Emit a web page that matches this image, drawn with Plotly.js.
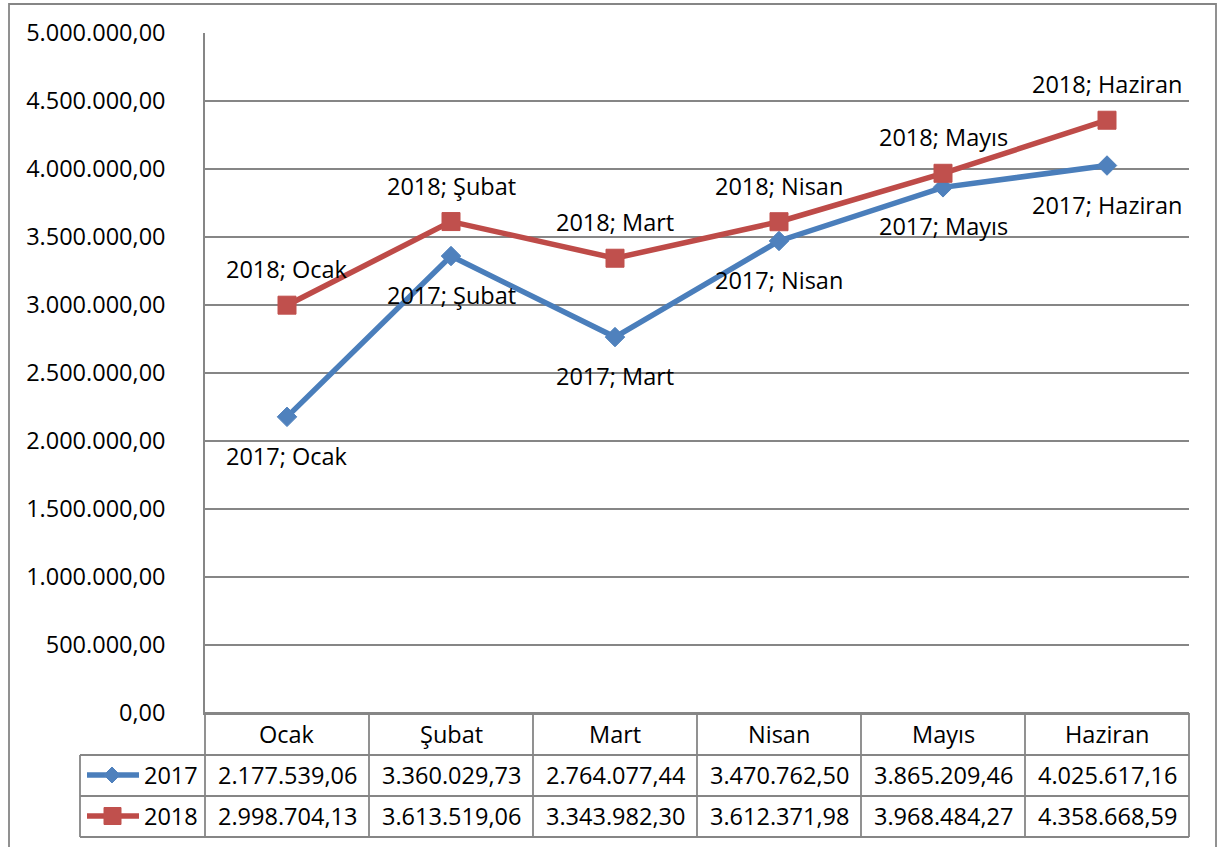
<!DOCTYPE html>
<html>
<head>
<meta charset="utf-8">
<script src="https://cdn.plot.ly/plotly-3.0.1.min.js"></script>
<style>html,body{margin:0;padding:0;background:#fff;}#chart{width:1219px;height:847px;}</style>
</head>
<body>
<div id="chart"></div>
<script>
// ---- data ----
const categories = ["Ocak", "Şubat", "Mart", "Nisan", "Mayıs", "Haziran"];
const seriesNames = ["2017", "2018"];
const values2017 = [2177539.06, 3360029.73, 2764077.44, 3470762.50, 3865209.46, 4025617.16];
const values2018 = [2998704.13, 3613519.06, 3343982.30, 3612371.98, 3968484.27, 4358668.59];

// ---- styling / layout helpers ----
const FONT = "Open Sans";
const FS = 23.5;
const BLUE = "#4A7EBB", BLUE_M = "#4F81BD";
const RED = "#BE4B48", RED_M = "#C0504D";
const GRID = "#868686";
const W = 1219, H = 847;
const PL = 205, PR = 1189, PT = 33, PB = 713;
const px = x => (x - PL) / (PR - PL);
const py = y => (PB - y) / (PB - PT);

function fmt(v) {
  const parts = v.toFixed(2).split(".");
  return parts[0].replace(/\B(?=(\d{3})+(?!\d))/g, ".") + "," + parts[1];
}

const traces = [
  {
    type: "scatter", mode: "lines+markers", name: seriesNames[0],
    x: categories, y: values2017,
    line: {color: BLUE, width: 5.5},
    marker: {symbol: "diamond", size: 15, color: BLUE_M, line: {color: BLUE_M, width: 1}},
    cliponaxis: false, hoverinfo: "skip"
  },
  {
    type: "scatter", mode: "lines+markers", name: seriesNames[1],
    x: categories, y: values2018,
    line: {color: RED, width: 5.5},
    marker: {symbol: "square", size: 18, color: RED_M, line: {color: RED_M, width: 1}},
    cliponaxis: false, hoverinfo: "skip"
  }
];

const annotations = [];
const shapes = [];
const txtFont = {family: FONT, size: FS, color: "#000"};

// data labels
categories.forEach((c, i) => {
  annotations.push({xref: "x", yref: "y", x: c, y: values2018[i], text: seriesNames[1] + "; " + c,
    showarrow: false, yshift: 36, font: txtFont, xanchor: "center", yanchor: "middle"});
  annotations.push({xref: "x", yref: "y", x: c, y: values2017[i], text: seriesNames[0] + "; " + c,
    showarrow: false, yshift: -39, font: txtFont, xanchor: "center", yanchor: "middle"});
});

// data table
const colW = (PR - PL) / categories.length;
const lineStyle = {color: GRID, width: 1.8};
function hline(x0, x1, y) {
  shapes.push({type: "line", xref: "paper", yref: "paper", x0: px(x0), x1: px(x1), y0: py(y), y1: py(y), line: lineStyle});
}
function vline(x, y0, y1) {
  shapes.push({type: "line", xref: "paper", yref: "paper", x0: px(x), x1: px(x), y0: py(y0), y1: py(y1), line: lineStyle});
}
hline(PL, PR, 713);
hline(80, PR, 755);
hline(80, PR, 796);
hline(80, PR, 837);
vline(80, 755, 837);
for (let i = 0; i <= categories.length; i++) vline(PL + colW * i, 713, 837);

categories.forEach((c, i) => {
  const cx = px(PL + colW * (i + 0.5));
  annotations.push({xref: "paper", yref: "paper", x: cx, y: py(734), text: c, showarrow: false,
    font: txtFont, xanchor: "center", yanchor: "middle"});
  annotations.push({xref: "paper", yref: "paper", x: cx, y: py(775.5), text: fmt(values2017[i]), showarrow: false,
    font: txtFont, xanchor: "center", yanchor: "middle"});
  annotations.push({xref: "paper", yref: "paper", x: cx, y: py(816.5), text: fmt(values2018[i]), showarrow: false,
    font: txtFont, xanchor: "center", yanchor: "middle"});
});

// legend keys in the table
annotations.push({xref: "paper", yref: "paper", x: px(142), y: py(775.5), text: seriesNames[0], showarrow: false,
  font: txtFont, xanchor: "left", yanchor: "middle"});
annotations.push({xref: "paper", yref: "paper", x: px(142), y: py(816.5), text: seriesNames[1], showarrow: false,
  font: txtFont, xanchor: "left", yanchor: "middle"});
shapes.push({type: "line", xref: "paper", yref: "paper", x0: px(87), x1: px(139), y0: py(775), y1: py(775),
  line: {color: BLUE, width: 5.5}});
shapes.push({type: "path", xref: "paper", yref: "paper",
  path: `M ${px(104)} ${py(775)} L ${px(112)} ${py(767)} L ${px(120)} ${py(775)} L ${px(112)} ${py(783)} Z`,
  fillcolor: BLUE_M, line: {color: BLUE_M, width: 1}});
shapes.push({type: "line", xref: "paper", yref: "paper", x0: px(87), x1: px(139), y0: py(816), y1: py(816),
  line: {color: RED, width: 5.5}});
shapes.push({type: "rect", xref: "paper", yref: "paper", x0: px(104), x1: px(121), y0: py(807.5), y1: py(824.5),
  fillcolor: RED_M, line: {color: RED_M, width: 1}});

// outer chart border
shapes.push({type: "rect", xref: "paper", yref: "paper", x0: px(9), x1: px(1216), y0: py(4), y1: py(870),
  line: {color: GRID, width: 1.8}, fillcolor: "rgba(0,0,0,0)"});

const layout = {
  width: W, height: H,
  margin: {l: PL, r: W - PR, t: PT, b: H - PB, pad: 0},
  paper_bgcolor: "#fff", plot_bgcolor: "#fff",
  separators: ",.",
  showlegend: false,
  font: {family: FONT, size: FS, color: "#000"},
  xaxis: {
    type: "category", range: [-0.5, categories.length - 0.5],
    showticklabels: false, ticks: "", showgrid: false, zeroline: false,
    showline: true, linecolor: GRID, linewidth: 1.8, fixedrange: true
  },
  yaxis: {
    range: [0, 5000000], dtick: 500000, tick0: 0, tickformat: ",.2f",
    showgrid: true, gridcolor: GRID, gridwidth: 1.8, zeroline: false,
    showline: true, linecolor: GRID, linewidth: 1.8, ticks: "",
    ticklabelstandoff: 33, tickfont: {family: FONT, size: FS, color: "#000"}, fixedrange: true
  },
  shapes: shapes,
  annotations: annotations
};

Plotly.newPlot("chart", traces, layout, {displayModeBar: false, staticPlot: true});
</script>
</body>
</html>
